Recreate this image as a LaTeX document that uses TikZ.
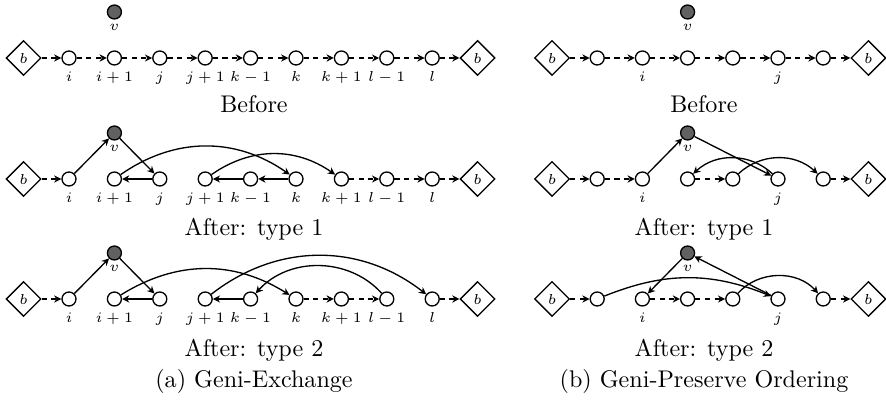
\documentclass[tikz,border=0pt]{standalone}
\usepackage{fontspec}
\usetikzlibrary{arrows.meta,shapes.geometric}
\newcommand{\labfont}{\fontsize{6}{7}\selectfont}
\begin{document}
\begin{tikzpicture}[x=0.415pt,y=-0.415pt,
  cnode/.style={circle,draw,line width=0.55pt,minimum size=5.8pt,inner sep=0pt,fill=white},
  vnode/.style={cnode,fill=black!62},
  dnode/.style={diamond,draw,line width=0.55pt,minimum size=14.5pt,inner sep=0pt,font=\labfont},
  lab/.style={anchor=base,inner sep=0pt,font=\labfont},
  dasharr/.style={line width=0.55pt,dash pattern=on 2.1pt off 1.9pt,-{Stealth[length=3pt,width=3pt]}},
  solarr/.style={line width=0.55pt,-{Stealth[length=3pt,width=3pt]}},
  title/.style={anchor=base,inner sep=0pt,font=\normalsize}]
\useasboundingbox (0,0) rectangle (886,408);

% ---------- panel (a) nodes ----------
\foreach \r/\y in {1/58,2/179,3/299} {
  \node[dnode] (a\r-0) at (23.6,\y) {$b$};
  \node[dnode] (a\r-10) at (477.6,\y) {$b$};
  \foreach \n/\t in {1/i,2/i+1,3/j,4/j+1,5/k-1,6/k,7/k+1,8/l-1,9/l} {
    \node[cnode] (a\r-\n) at ({23.6+45.4*\n},\y) {};
    \node[lab] (a\r-\n-l) at ({23.6+45.4*\n},\y+24) {$\t$};
  }
  \node[vnode] (a\r-v) at (114.4,\y-46) {};
  \node[lab] (a\r-vl) at (114.4,\y-27) {$v$};
}

% ---------- panel (b) nodes ----------
\foreach \r/\y in {1/58,2/179,3/299} {
  \node[dnode] (b\r-0) at (552,\y) {$b$};
  \node[dnode] (b\r-7) at ({552+45.2*7},\y) {$b$};
  \foreach \n in {1,...,6} {
    \node[cnode] (b\r-\n) at ({552+45.2*\n},\y) {};
  }
  \node[lab] (b\r-il) at ({552+45.2*2},\y+24) {$i$};
  \node[lab] (b\r-jl) at ({552+45.2*5},\y+24) {$j$};
  \node[vnode] (b\r-v) at ({552+45.2*3},\y-46) {};
  \node[lab] (b\r-vl) at ({552+45.2*3},\y-27) {$v$};
}

% ---------- panel (a) edges ----------
\foreach \p/\q in {0/1,1/2,2/3,3/4,4/5,5/6,6/7,7/8,8/9,9/10}
  \draw[dasharr] (a1-\p) -- (a1-\q);

\foreach \p/\q in {0/1,7/8,8/9,9/10}
  \draw[dasharr] (a2-\p) -- (a2-\q);
\draw[solarr] (a2-1) -- (a2-v);
\draw[solarr] (a2-v) -- (a2-3);
\draw[solarr] (a2-3) -- (a2-2);
\draw[solarr] (a2-6) -- (a2-5);
\draw[solarr] (a2-5) -- (a2-4);
\draw[solarr] (a2-2) to[bend left=35] (a2-6);
\draw[solarr] (a2-4) to[bend left=35] (a2-7);

\foreach \p/\q in {0/1,6/7,7/8,9/10}
  \draw[dasharr] (a3-\p) -- (a3-\q);
\draw[solarr] (a3-1) -- (a3-v);
\draw[solarr] (a3-v) -- (a3-3);
\draw[solarr] (a3-3) -- (a3-2);
\draw[solarr] (a3-5) -- (a3-4);
\draw[solarr] (a3-2) to[bend left=32] (a3-6);
\draw[solarr] (a3-8) to[bend right=48] (a3-5);
\draw[solarr] (a3-4) to[bend left=38] (a3-9);

% ---------- panel (b) edges ----------
\foreach \p/\q in {0/1,1/2,2/3,3/4,4/5,5/6,6/7}
  \draw[dasharr] (b1-\p) -- (b1-\q);

\foreach \p/\q in {0/1,1/2,3/4,6/7}
  \draw[dasharr] (b2-\p) -- (b2-\q);
\draw[solarr] (b2-2) -- (b2-v);
\draw[solarr] (b2-v) -- (b2-5);
\draw[solarr] (b2-5) to[bend right=43] (b2-3);
\draw[solarr] (b2-4) to[bend left=43] (b2-6);

\foreach \p/\q in {0/1,2/3,3/4,6/7}
  \draw[dasharr] (b3-\p) -- (b3-\q);
\draw[solarr] (b3-5) -- (b3-v);
\draw[solarr] (b3-v) -- (b3-2);
\draw[solarr] (b3-1) to[bend left=22] (b3-5);
\draw[solarr] (b3-4) to[bend left=48] (b3-6);

% ---------- titles ----------
\node[title] (ta1) at (254,113) {Before};
\node[title] (ta2) at (254,236) {After: type 1};
\node[title] (ta3) at (254,357) {After: type 2};
\node[title] (tb1) at (704,113) {Before};
\node[title] (tb2) at (704,236) {After: type 1};
\node[title] (tb3) at (704,357) {After: type 2};
\node[title] (capa) at (254,388) {(a) Geni-Exchange};
\node[title] (capb) at (704,388) {(b) Geni-Preserve Ordering};
\end{tikzpicture}
\end{document}
